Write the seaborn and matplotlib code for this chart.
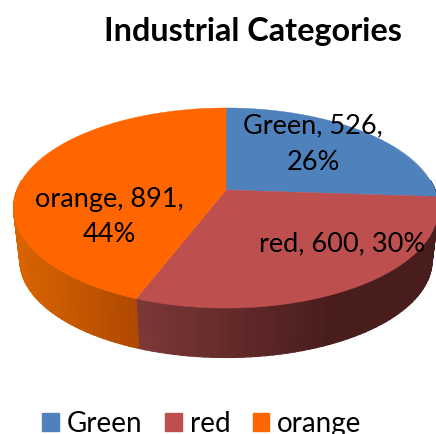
#!/usr/bin/env python

import matplotlib
matplotlib.use("Agg")
import matplotlib.pyplot as plt
from matplotlib.patches import Patch
import numpy as np
import seaborn as sns

sns.set_theme(style="white")
plt.rcParams['font.family'] = ['Lato', 'DejaVu Sans']

## Data
categories = ["Green", "red", "orange"]
values = [526, 600, 891]
label_breaks = ["{}, {},\n{}%", "{}, {}, {}%", "{}, {},\n{}%"]

## Colours
top_colors = sns.color_palette(["#4F81BD", "#BE4F4F", "#FF6600"])
wall_left = ["#2F4D71", "#7E3838", "#D86400"]
wall_right = ["#2F4D71", "#4A1D1D", "#B04A00"]

## Pie shape, in pixels of the 436x434 picture
CX, CY = 226, 190
RX, RY, TILT = 209, 96.8, 0.18
DEPTH, SHRINK = 53, 0.97


def rim(t, depth=0.0, scale=1.0):
    # t is clockwise from 12 o'clock, result is on the tilted disc
    u, v = np.sin(t), -np.cos(t)
    d = 1 - TILT * v
    return CX + scale * RX * u / d, CY + depth + scale * RY * v / d


fig = plt.figure(figsize=(4.36, 4.34), dpi=100)
ax = fig.add_axes([0, 0, 1, 1])
ax.set_xlim(0, 436)
ax.set_ylim(434, 0)
ax.axis("off")

fractions = np.array(values) / sum(values)
edges = np.concatenate([[0], np.cumsum(fractions)]) * 2 * np.pi

## Side wall first, only the part facing us
for i in range(len(values)):
    start = max(edges[i], np.pi / 2 - 0.1)
    stop = min(edges[i + 1], 3 * np.pi / 2 + 0.1)
    if stop <= start:
        continue
    n = 60
    ramp = sns.blend_palette([wall_left[i], wall_right[i]], n)
    ts = np.linspace(start, stop, n + 1)
    xs_all = rim(ts)[0]
    lo, hi = (136, 330) if i == 1 else (15, 136)
    for j in range(n):
        tt = np.linspace(ts[j], ts[j + 1] + 0.005, 3)
        x1, y1 = rim(tt)
        x2, y2 = rim(tt, DEPTH, SHRINK)
        frac = (xs_all[j] - lo) / (hi - lo)
        c = ramp[int(np.clip(frac, 0, 1) * (n - 1))]
        ax.fill(np.r_[x1, x2[::-1]], np.r_[y1, y2[::-1]], color=c, lw=0.8, zorder=2)

## Top face
for i in range(len(values)):
    tt = np.linspace(edges[i], edges[i + 1], 120)
    x, y = rim(tt)
    ax.fill(np.r_[CX, x], np.r_[CY, y], color=top_colors[i], lw=0.3, zorder=3)

## Labels
label_pos = [(313, 144), (342, 244), (109, 217)]
for i, (px, py) in enumerate(label_pos):
    pct = round(100 * fractions[i])
    ax.text(px, py, label_breaks[i].format(categories[i], values[i], pct),
            ha="center", va="center", fontsize=19.5, color="black",
            linespacing=1.55, zorder=4)

ax.text(253, 31, "Industrial Categories", ha="center", va="center",
        fontsize=23.3, fontweight="bold", color="black", zorder=4)

## Legend
handles = [Patch(color=top_colors[i], label=categories[i]) for i in range(len(categories))]
ax.legend(handles=handles, loc="center", bbox_to_anchor=(202, 424),
          bbox_transform=ax.transData, ncol=3, frameon=False, fontsize=20,
          handlelength=0.61, handleheight=0.61, handletextpad=0.28,
          columnspacing=0.8, borderpad=0, labelcolor="black")

plt.savefig("out.png", dpi=100)
